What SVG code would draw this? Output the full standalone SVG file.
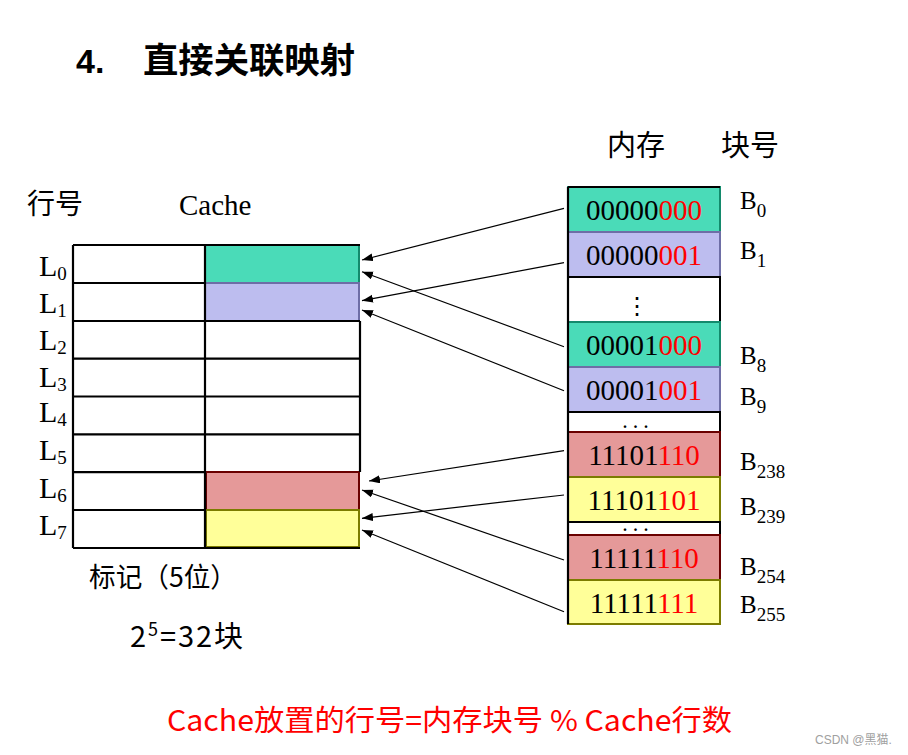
<svg xmlns="http://www.w3.org/2000/svg" width="908" height="755" viewBox="0 0 908 755">
<style>
.cjk{font-family:"Microsoft YaHei","Noto Sans CJK SC","Noto Sans",sans-serif;}
.ser{font-family:"Liberation Serif","Times New Roman",serif;}
.grid{stroke:#000;stroke-width:2.2;fill:none;}
.g{fill:#4ADBB8;stroke:#138A6C;stroke-width:2;}
.p{fill:#BDBDEF;stroke:#6E6EA6;stroke-width:2;}
.r{fill:#E59999;stroke:#6A0000;stroke-width:2;}
.y{fill:#FFFF99;stroke:#7C7C00;stroke-width:2;}
.w{fill:#fff;stroke:#000;stroke-width:2;}
.red{fill:#FF0000;}
.arr{stroke:#000;stroke-width:1.2;fill:none;marker-end:url(#ah);}
.mem{font-size:29px;text-anchor:middle;}
.lab{font-size:30px;}
.blab{font-size:25px;}
.sub{font-size:19px;}
.dots{font-size:16px;letter-spacing:6.5px;font-weight:bold;}
</style>
<defs>
<marker id="ah" markerUnits="userSpaceOnUse" markerWidth="12" markerHeight="10" refX="11" refY="4" orient="auto">
<path d="M0,0 L11,4 L0,8 Z" fill="#000"/>
</marker>
</defs>
<rect width="908" height="755" fill="#fff"/>

<g id="title">
<text x="76" y="73" font-family="Liberation Sans,Arial,sans-serif" font-weight="bold" font-size="34">4.</text>
<text x="143" y="73" class="cjk" font-weight="bold" font-size="35" textLength="212" lengthAdjust="spacingAndGlyphs">直接关联映射</text>
</g>

<g id="headers">
<text x="27" y="214" class="cjk" font-size="28">行号</text>
<text x="179" y="215" class="ser" font-size="29">Cache</text>
<text x="607" y="156" class="cjk" font-size="29">内存</text>
<text x="721" y="156" class="cjk" font-size="29">块号</text>
</g>

<g id="cache">
<rect x="73" y="245" width="287" height="303" fill="#fff"/>
<rect class="g" x="205" y="245" width="154" height="38"/>
<rect class="p" x="205" y="283" width="154" height="38"/>
<rect class="r" x="206" y="472" width="153" height="38"/>
<rect class="y" x="206" y="510" width="153" height="37"/>
<path class="grid" d="M73,245 H360 M73,283 H205 M73,321 H360 M73,358.6 H360 M73,396.5 H360 M73,434.4 H360 M73,472.2 H206 M73,510 H206 M73,548 H360 M73,245 V548 M205,245 V548 M360,321 V472"/>
<path class="grid" d="M206,548 H360"/>
</g>

<g id="lines" class="ser">
<text class="lab" x="39" y="276">L<tspan class="sub" dy="4">0</tspan></text>
<text class="lab" x="39" y="313">L<tspan class="sub" dy="4">1</tspan></text>
<text class="lab" x="39" y="350">L<tspan class="sub" dy="4">2</tspan></text>
<text class="lab" x="39" y="387">L<tspan class="sub" dy="4">3</tspan></text>
<text class="lab" x="39" y="422">L<tspan class="sub" dy="4">4</tspan></text>
<text class="lab" x="39" y="460">L<tspan class="sub" dy="4">5</tspan></text>
<text class="lab" x="39" y="498">L<tspan class="sub" dy="4">6</tspan></text>
<text class="lab" x="39" y="535">L<tspan class="sub" dy="4">7</tspan></text>
</g>

<g id="memory">
<rect class="g" x="568" y="187" width="152" height="45"/>
<rect class="p" x="568" y="232" width="152" height="45"/>
<rect class="w" x="568" y="277" width="152" height="45"/>
<rect class="g" x="568" y="322" width="152" height="45"/>
<rect class="p" x="568" y="367" width="152" height="45"/>
<rect class="w" x="568" y="412" width="152" height="20"/>
<rect class="r" x="568" y="432" width="152" height="45"/>
<rect class="y" x="568" y="477" width="152" height="45"/>
<rect class="w" x="568" y="522" width="152" height="13"/>
<rect class="r" x="568" y="535" width="152" height="45"/>
<rect class="y" x="568" y="580" width="152" height="44"/>
<path class="grid" d="M568,187 H720 M568,187 V624"/>
<g class="ser">
<text class="mem" x="644" y="220">00000<tspan class="red">000</tspan></text>
<text class="mem" x="644" y="265">00000<tspan class="red">001</tspan></text>
<text x="637" y="314" font-family="DejaVu Sans,sans-serif" font-size="24" text-anchor="middle">⋮</text>
<text class="mem" x="644" y="355">00001<tspan class="red">000</tspan></text>
<text class="mem" x="644" y="400">00001<tspan class="red">001</tspan></text>
<text class="dots" x="623" y="428">...</text>
<text class="mem" x="644" y="465">11101<tspan class="red">110</tspan></text>
<text class="mem" x="644" y="510">11101<tspan class="red">101</tspan></text>
<text class="dots" x="623" y="531">...</text>
<text class="mem" x="644" y="568">11111<tspan class="red">110</tspan></text>
<text class="mem" x="644" y="612.5">11111<tspan class="red">111</tspan></text>
</g>
</g>

<g id="blocks" class="ser">
<text class="blab" x="740" y="209">B<tspan class="sub" dy="8">0</tspan></text>
<text class="blab" x="740" y="259">B<tspan class="sub" dy="8">1</tspan></text>
<text class="blab" x="740" y="364">B<tspan class="sub" dy="8">8</tspan></text>
<text class="blab" x="740" y="405">B<tspan class="sub" dy="8">9</tspan></text>
<text class="blab" x="740" y="470">B<tspan class="sub" dy="8">238</tspan></text>
<text class="blab" x="740" y="515">B<tspan class="sub" dy="8">239</tspan></text>
<text class="blab" x="740" y="575">B<tspan class="sub" dy="8">254</tspan></text>
<text class="blab" x="740" y="613">B<tspan class="sub" dy="8">255</tspan></text>
</g>

<g id="connectors">
<line class="arr" x1="564" y1="208.3" x2="362" y2="260"/>
<line class="arr" x1="564" y1="262.7" x2="362" y2="300.7"/>
<line class="arr" x1="564" y1="346.7" x2="362" y2="271.7"/>
<line class="arr" x1="564" y1="390.7" x2="362" y2="310"/>
<line class="arr" x1="564" y1="450.7" x2="369" y2="481"/>
<line class="arr" x1="564" y1="495" x2="362" y2="518.3"/>
<line class="arr" x1="564" y1="560" x2="362" y2="490"/>
<line class="arr" x1="564" y1="611.7" x2="362" y2="530"/>
</g>

<g id="notes">
<text x="89" y="587" class="cjk" font-size="27" textLength="148" lengthAdjust="spacingAndGlyphs">标记（5位）</text>
<text x="130" y="647" class="cjk" font-size="29" textLength="113" lengthAdjust="spacing">2<tspan font-size="18" dy="-11">5</tspan><tspan dy="11">=32块</tspan></text>
<text x="167" y="731" class="cjk red" font-size="29" textLength="565" lengthAdjust="spacingAndGlyphs">Cache放置的行号=内存块号 % Cache行数</text>
<text x="815" y="744" font-family="Liberation Sans,Arial,Noto Sans CJK SC,sans-serif" font-size="12" fill="#A0A0A0">CSDN @黑猫.</text>
</g>
</svg>
